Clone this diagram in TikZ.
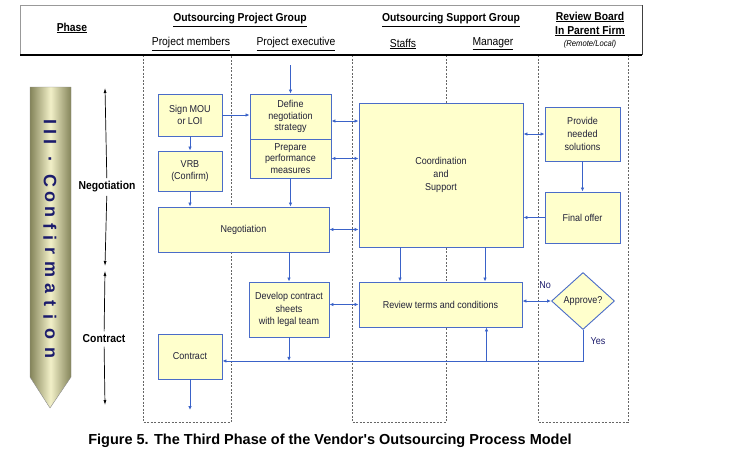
\documentclass[tikz,border=0pt]{standalone}
\usepackage{fontspec}
\setmainfont[FakeStretch=0.9]{Liberation Sans}
\newfontfamily\capfont{Liberation Sans}
\usepackage{tikz}
\usetikzlibrary{arrows.meta}
\usetikzlibrary{positioning}
\usetikzlibrary{shapes}
\usetikzlibrary{calc}
\definecolor{boxfill}{HTML}{FFFFCC}
\definecolor{boxline}{HTML}{4A6CC8}
\definecolor{flowline}{HTML}{3A62C8}
\definecolor{boxtext}{HTML}{202038}
\definecolor{navytext}{HTML}{1C1C6C}
\definecolor{pencildark}{HTML}{84845A}
\definecolor{pencillight}{HTML}{F2F0C8}
\tikzstyle{block}=[draw=boxline,fill=boxfill,line width=0.9pt,align=center,text=boxtext,inner sep=1pt,font=\fontsize{10}{12}\selectfont]
\tikzstyle{flow}=[draw=flowline,line width=0.8pt]
\tikzstyle{lane}=[draw=black!60,dash pattern=on 2pt off 1.5pt,line width=0.6pt]
\tikzstyle{grouphead}=[font=\fontsize{11.5}{14}\selectfont\bfseries,align=center]
\tikzstyle{rolehead}=[font=\fontsize{11.5}{14}\selectfont]

\begin{document}
\begin{tikzpicture}[x=1pt,y=-1pt,>={Latex[length=4pt,width=3.5pt]}]
\useasboundingbox (0,0) rectangle (731,448);
% swim lanes
\draw[lane] (143,55) rectangle (231,422);
\draw[lane] (352,55) rectangle (446,422);
\draw[lane] (538,55) rectangle (628,422);
% header
\draw[black!40,line width=0.8pt] (20,55) -- (20,5) -- (642,5);
\draw[black!75,line width=1pt] (642,5) -- (642,55);
\draw[line width=2.5pt] (20,55) -- (642,55);
\node[grouphead] (phase) at (72,28) {\underline{Phase}};
\node[grouphead] (opg) at (240,20) {\underline{Outsourcing Project Group}};
\node[rolehead] (members) at (191,44) {\underline{Project members}};
\node[rolehead] (exec) at (296,44) {\underline{Project executive}};
\node[grouphead] (osg) at (451,20) {\underline{Outsourcing Support Group}};
\node[rolehead] (staffs) at (403,44) {\underline{Staffs}};
\node[rolehead] (manager) at (493,44) {\underline{Manager}};
\node[grouphead] (board) at (590,24) {\underline{Review Board}\\\underline{In Parent Firm}};
\node[font=\fontsize{8.5}{9}\selectfont\itshape] (remote) at (590,44) {(Remote/Local)};

% phase pencil
\shade[left color=pencildark,right color=pencildark,middle color=pencillight,draw=black!45]
  (30,87) -- (71,87) -- (71,377) -- (50,408) -- (30,377) -- cycle;
\foreach \ch/\yy [count=\i] in {I/122,I/132,I/142,./159,C/181,o/197,n/212,f/226,i/238,r/251,m/269,a/288,t/303,i/317,o/334,n/353}
  \node[rotate=-90,text=navytext,font=\capfont\fontsize{18}{18}\selectfont\bfseries] (conf\i) at (50,\yy) {\ch};

\node[font=\fontsize{11.5}{13}\selectfont\bfseries] (negphase) at (107,187) {Negotiation};
\node[font=\fontsize{11.5}{13}\selectfont\bfseries] (conphase) at (104,339) {Contract};
\coordinate (negtop) at (105,88);
\coordinate (negbot) at (105,266);
\coordinate (contop) at (105,271);
\coordinate (conbot) at (105,405);
\draw[->,>={Latex[length=5pt,width=3pt]},line width=0.7pt] (negphase) -- (negtop);
\draw[->,>={Latex[length=5pt,width=3pt]},line width=0.7pt] (negphase) -- (negbot);
\draw[->,>={Latex[length=5pt,width=3pt]},line width=0.7pt] (conphase) -- (contop);
\draw[->,>={Latex[length=5pt,width=3pt]},line width=0.7pt] (conphase) -- (conbot);

% process boxes
\node[block,minimum width=64pt,minimum height=42pt] (mou) at (190,115) {Sign MOU\\or LOI};
\node[block,minimum width=64pt,minimum height=40pt] (vrb) at (190,171) {VRB\\(Confirm)};
\node[block,minimum width=81pt,minimum height=45pt,font=\fontsize{10}{11.5}\selectfont] (define) at (290.5,116.5) {Define\\negotiation\\strategy};
\node[block,minimum width=81pt,minimum height=39pt,font=\fontsize{10}{11.5}\selectfont] (prepare) at (290.5,158.5) {Prepare\\performance\\measures};
\node[block,minimum width=171pt,minimum height=45pt] (nego) at (243.5,229.5) {Negotiation};
\node[block,minimum width=164pt,minimum height=144pt,font=\fontsize{10}{13}\selectfont] (coord) at (441,175) {Coordination\\and\\Support};
\node[block,minimum width=75pt,minimum height=54pt,font=\fontsize{10}{13}\selectfont] (provide) at (582.5,134) {Provide\\needed\\solutions};
\node[block,minimum width=75pt,minimum height=51pt] (final) at (582.5,217.5) {Final offer};
\node[block,minimum width=80pt,minimum height=55pt,font=\fontsize{10}{12.5}\selectfont] (develop) at (289,309.5) {Develop contract\\sheets\\with legal team};
\node[block,minimum width=64pt,minimum height=45pt] (contract) at (190,356.5) {Contract};
\node[block,minimum width=163pt,minimum height=45pt] (review) at (440.5,304.5) {Review terms and conditions};
\node[block,shape=diamond,inner sep=0pt,minimum width=63pt,minimum height=57pt] (approve) at (583,301) {Approve?};
\node[text=navytext,font=\fontsize{10}{12}\selectfont] (nolabel) at (545,285) {No};
\node[text=navytext,font=\fontsize{10}{12}\selectfont] (yeslabel) at (598,341) {Yes};

% connectors
\coordinate (start) at (290.5,65);
\coordinate (yesturn) at ($(approve.south)+(0,31)$);
\coordinate (finish) at (190,410);
\draw[flow,->] (start) -- (define);
\draw[flow,->] (mou) -- (define.west |- mou);
\draw[flow,->] (mou) -- (vrb);
\draw[flow,->] (vrb) -- (vrb |- nego.north);
\draw[flow,->] (prepare) -- (prepare |- nego.north);
\draw[flow,<->] ($(define.east)+(0,4.5)$) -- ($(define.east -| coord.west)+(0,4.5)$);
\draw[flow,<->] (prepare.east) -- (prepare.east -| coord.west);
\draw[flow,<->] (nego.east) -- (nego.east -| coord.west);
\draw[flow,<->] (provide.west) -- (provide.west -| coord.east);
\draw[flow,->] (provide) -- (final);
\draw[flow,->] (final.west) -- (final.west -| coord.east);
\draw[flow,->] (develop.north |- nego.south) -- (develop.north);
\draw[flow,->] ([xshift=-41pt]coord.south) -- ([xshift=-41pt]coord.south |- review.north);
\draw[flow,->] ([xshift=44pt]coord.south) -- ([xshift=44pt]coord.south |- review.north);
\draw[flow,<->] (review.west -| develop.east) -- (review.west);
\draw[flow,<->] (review.east |- approve.west) -- (approve.west);
\draw[flow,->] (approve.south) -- (yesturn) -- (yesturn -| contract.east);
\draw[flow,->] ([xshift=46pt]review.south |- yesturn) -- ([xshift=46pt]review.south);
\draw[flow,->] (develop) -- (develop |- yesturn);
\draw[flow,->] (contract) -- (finish);

\node[font=\capfont\fontsize{14.5}{14.5}\selectfont\bfseries,anchor=base] (caption) at (330,444) {Figure 5. The Third Phase of the Vendor's Outsourcing Process Model};
\end{tikzpicture}
\end{document}
